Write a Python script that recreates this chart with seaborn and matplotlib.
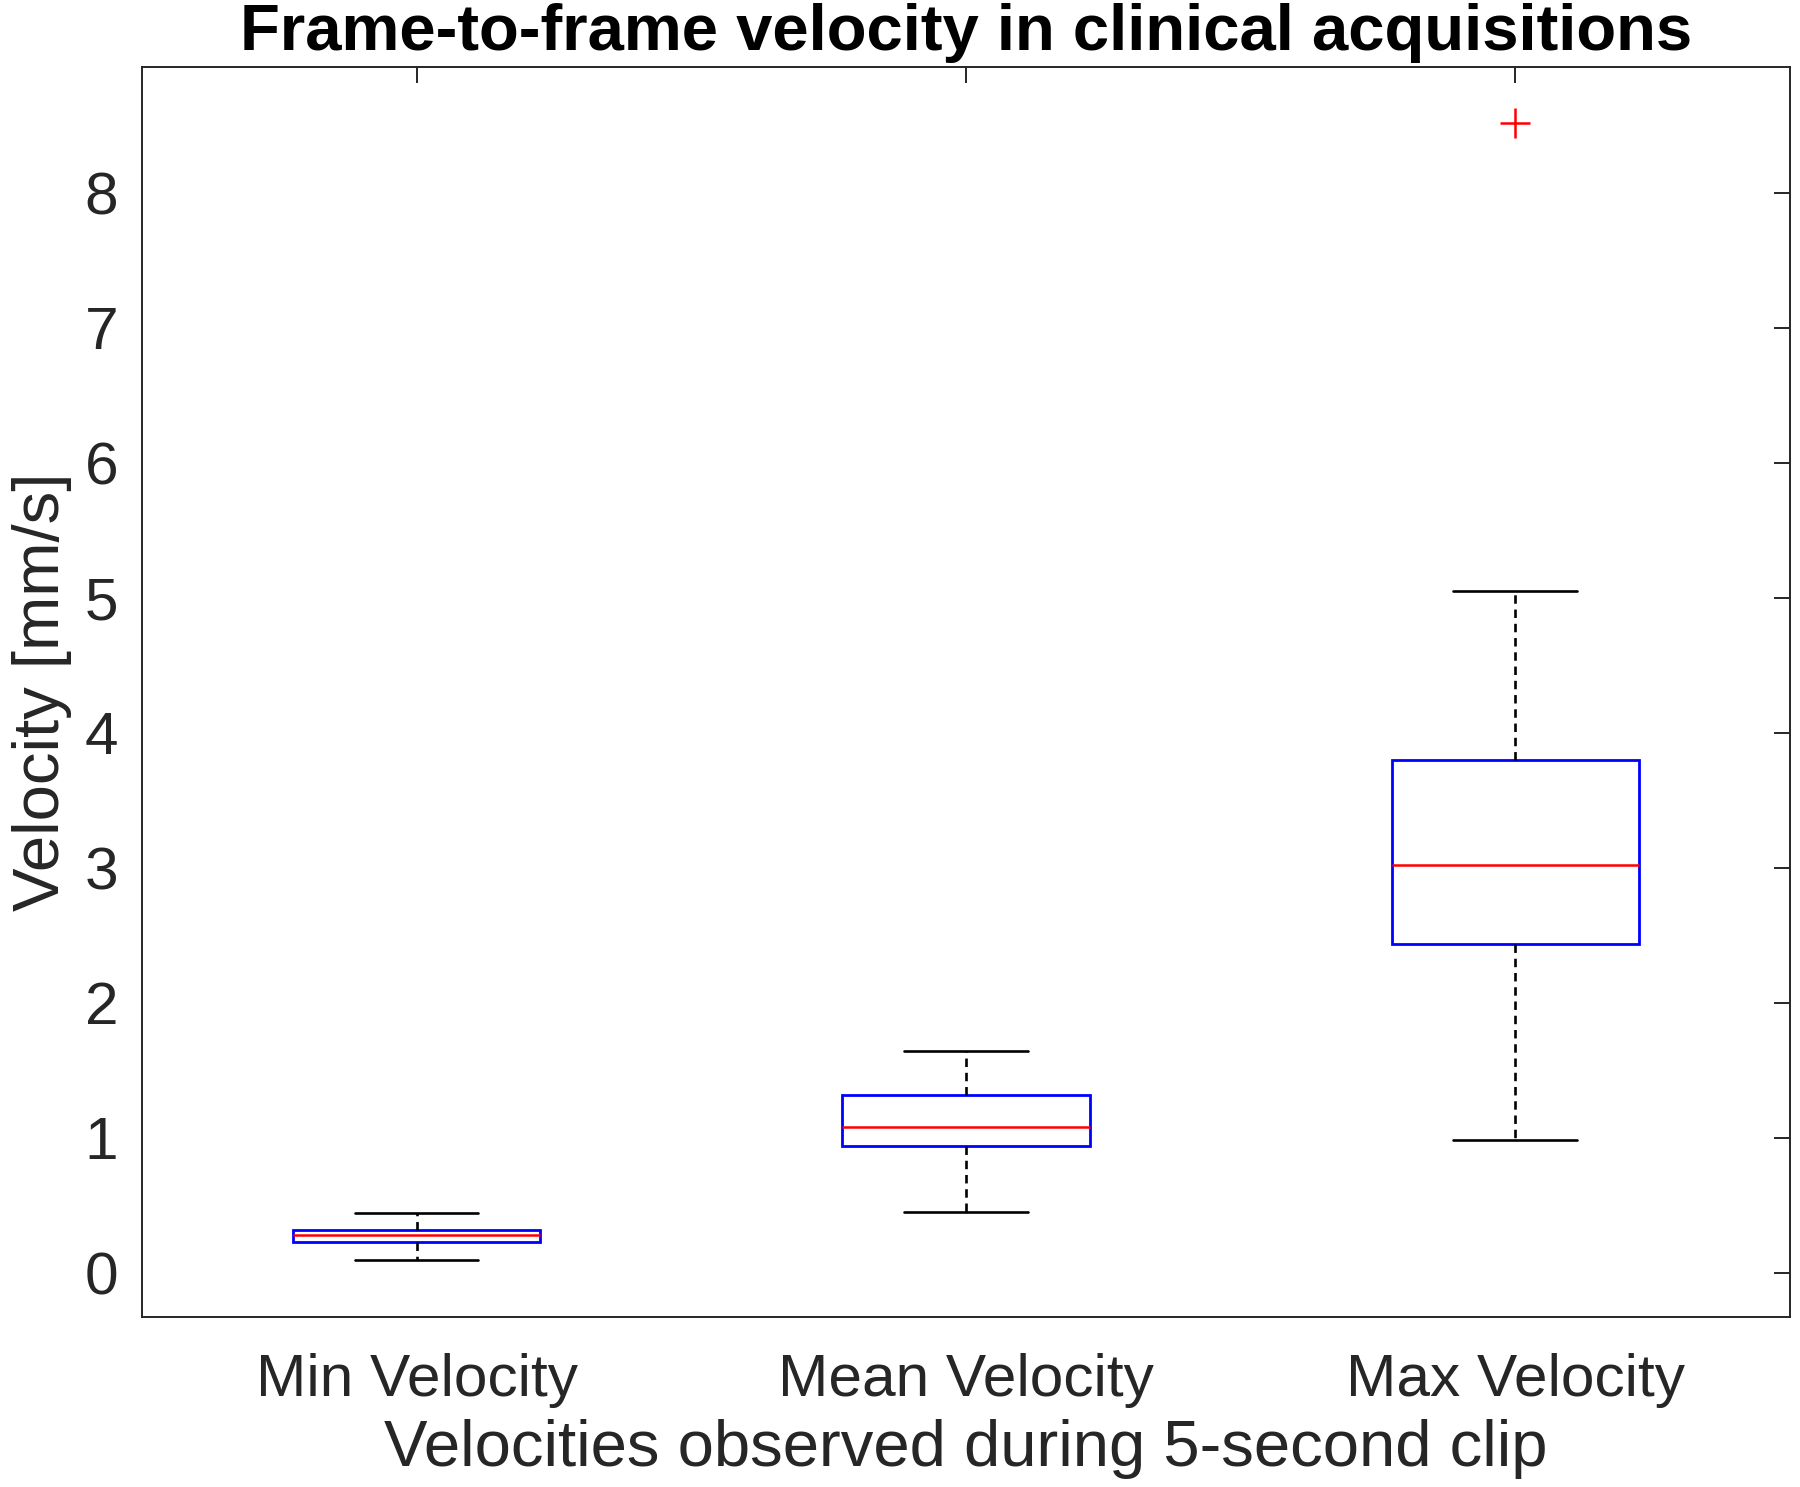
import pandas as pd
import matplotlib
matplotlib.use("Agg")
import matplotlib.pyplot as plt
import seaborn as sns

# Velocity samples per group (9 values each so the quartiles fall on data points)
groups = ["Min Velocity", "Mean Velocity", "Max Velocity"]
min_vel = [0.10, 0.18, 0.23, 0.26, 0.281, 0.30, 0.32, 0.38, 0.446]
mean_vel = [0.45, 0.75, 0.94, 1.01, 1.083, 1.20, 1.318, 1.50, 1.645]
max_vel = [0.985, 1.80, 2.437, 2.75, 3.02, 3.40, 3.80, 5.05, 8.515]

df = pd.DataFrame({
    "group": [groups[0]] * len(min_vel) + [groups[1]] * len(mean_vel) + [groups[2]] * len(max_vel),
    "velocity": min_vel + mean_vel + max_vel,
})

sns.set_theme(style="white")
plt.rcParams["font.family"] = ["Liberation Sans", "DejaVu Sans"]

fig = plt.figure(figsize=(18, 14.87), dpi=100)
ax = fig.add_axes([0.0789, 0.1143, 0.9155, 0.8407])

sns.boxplot(
    data=df, x="group", y="velocity", order=groups, ax=ax,
    width=0.45, whis=1.5,
    boxprops=dict(facecolor="white", edgecolor="blue", linewidth=2.0),
    medianprops=dict(color="red", linewidth=1.8),
    whiskerprops=dict(color="black", linewidth=1.9, linestyle=(0, (3.2, 2.2))),
    capprops=dict(color="black", linewidth=1.9),
    flierprops=dict(marker="+", markeredgecolor="red", markerfacecolor="red",
                    markersize=22, markeredgewidth=1.8),
)

ax.set_xlim(-0.5, 2.5)
ax.set_ylim(-0.326, 8.93)
ax.set_yticks(range(0, 9))

ax.tick_params(axis="both", which="both", direction="in", length=11.5, width=1.4,
               colors="#262626", labelsize=43.5, top=True, right=True)
ax.tick_params(axis="x", pad=26)
ax.tick_params(axis="y", pad=17)
for s in ax.spines.values():
    s.set_color("#262626")
    s.set_linewidth(1.4)

ax.set_xlabel("Velocities observed during 5-second clip", fontsize=47, color="#262626", labelpad=8)
ax.set_ylabel("Velocity [mm/s]", fontsize=47, color="#262626", labelpad=9)
ax.set_title("Frame-to-frame velocity in clinical acquisitions", fontsize=47,
             fontweight="bold", color="black", pad=12)

fig.savefig("out.png", dpi=100)
